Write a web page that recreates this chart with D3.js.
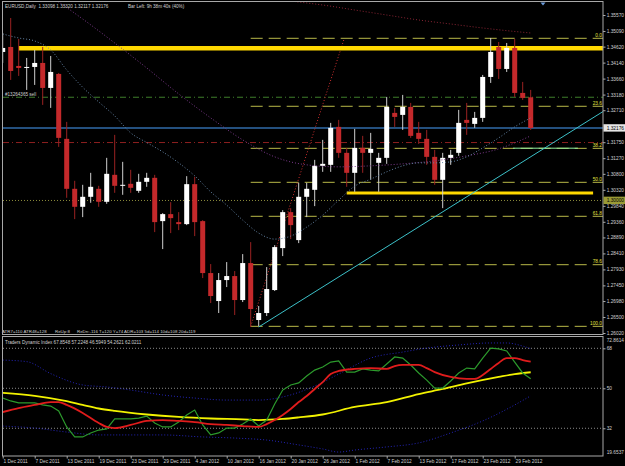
<!DOCTYPE html>
<html><head><meta charset="utf-8">
<script src="https://cdn.jsdelivr.net/npm/d3@7"></script>
<style>
html,body{margin:0;padding:0;background:#000;}
svg{display:block;}
text{font-family:"Liberation Sans",Arial,sans-serif;}
</style></head><body>
<svg id="c" width="625" height="466"></svg>
<script>
// ---------- DATA ----------
const opens  = [1.3446,1.3461,1.3404,1.3398,1.3401,1.3413,1.3338,1.3380,1.3185,1.3035,1.2981,1.3011,1.3035,1.2996,1.3077,1.3044,1.3050,1.3029,1.3056,1.3068,1.2938,1.2959,1.2935,1.2929,1.3049,1.2938,1.2782,1.2698,1.2761,1.2773,1.2701,1.2812,1.2641,1.2662,1.2731,1.2857,1.2965,1.2881,1.3011,1.3032,1.3104,1.3107,1.3221,1.3143,1.3083,1.3158,1.3143,1.3113,1.3128,1.3263,1.3257,1.3281,1.3203,1.3185,1.3131,1.3062,1.3128,1.3143,1.3242,1.3230,1.3248,1.3371,1.3461,1.3395,1.3458,1.3323,1.33098];
const highs  = [1.3503,1.3548,1.3485,1.3428,1.3452,1.3461,1.3434,1.3383,1.3236,1.3059,1.3047,1.3083,1.3044,1.3128,1.3197,1.3116,1.3092,1.3080,1.3083,1.3077,1.2962,1.2995,1.2965,1.3073,1.3071,1.2941,1.2809,1.2782,1.2815,1.2788,1.2839,1.2875,1.2683,1.2800,1.2866,1.2971,1.2977,1.3053,1.3053,1.3122,1.3182,1.3233,1.3242,1.3158,1.3215,1.3194,1.3203,1.3143,1.3311,1.3278,1.3317,1.3293,1.3236,1.3212,1.3152,1.3143,1.3152,1.3272,1.3293,1.3266,1.3377,1.3488,1.3476,1.3473,1.3485,1.3356,1.33320];
const lows   = [1.3413,1.3362,1.3374,1.3332,1.3347,1.3287,1.3278,1.3161,1.3008,1.2944,1.2950,1.2993,1.2981,1.2990,1.3023,1.3017,1.3023,1.3023,1.3041,1.2905,1.2854,1.2902,1.2911,1.2926,1.2893,1.2767,1.2692,1.2662,1.2740,1.2656,1.2695,1.2620,1.2623,1.2653,1.2728,1.2833,1.2884,1.2872,1.2950,1.2983,1.3086,1.3086,1.3128,1.3041,1.3026,1.3083,1.3062,1.3026,1.3110,1.3221,1.3212,1.3188,1.3170,1.3107,1.3047,1.2977,1.3107,1.3134,1.3197,1.3218,1.3236,1.3353,1.3365,1.3386,1.3311,1.3302,1.32117];
const closes = [1.3458,1.3389,1.3398,1.3401,1.3413,1.3338,1.3386,1.3188,1.3035,1.2981,1.3011,1.3041,1.2996,1.3080,1.3044,1.3047,1.3038,1.3056,1.3068,1.2935,1.2959,1.2947,1.2929,1.3049,1.2935,1.2782,1.2713,1.2761,1.2773,1.2701,1.2812,1.2674,1.2662,1.2734,1.2860,1.2965,1.2926,1.3011,1.3035,1.3104,1.3110,1.3218,1.3143,1.3083,1.3158,1.3143,1.3155,1.3128,1.3281,1.3251,1.3281,1.3194,1.3185,1.3131,1.3062,1.3128,1.3137,1.3233,1.3233,1.3248,1.3371,1.3446,1.3395,1.3458,1.3323,1.3308,1.32176];

const dateLabels = ["1 Dec 2011","7 Dec 2011","13 Dec 2011","19 Dec 2011","23 Dec 2011","29 Dec 2011","4 Jan 2012","10 Jan 2012","16 Jan 2012","20 Jan 2012","26 Jan 2012","1 Feb 2012","7 Feb 2012","13 Feb 2012","17 Feb 2012","23 Feb 2012","29 Feb 2012"];
const dateBars = [0,4,8,12,16,20,24,28,32,36,40,44,48,52,56,60,64];

const priceTicks = [1.35570,1.35090,1.34620,1.34140,1.33660,1.33180,1.32710,1.31750,1.31270,1.30800,1.30320,1.29840,1.29360,1.28890,1.28410,1.27930,1.27450,1.26980,1.26500,1.26020];
const tdiLevels = [68, 50, 32];
const tdiMax = 72.8614, tdiMin = 19.6537;

// moving averages on price chart: [bar, price]
const maFast = [[0,1.3500],[2,1.3488],[4,1.3479],[6,1.3452],[8,1.3392],[10,1.3340],[12,1.3296],[14,1.3254],[16,1.3203],[18,1.3174],[20,1.3146],[22,1.3113],[24,1.3074],[26,1.3026],[28,1.2986],[30,1.2941],[32,1.2902],[34,1.2884],[36,1.2893],[38,1.2920],[40,1.2956],[42,1.3001],[44,1.3043],[46,1.3064],[48,1.3086],[50,1.3104],[52,1.3113],[54,1.3113],[56,1.3116],[58,1.3131],[60,1.3158],[62,1.3188],[64,1.3221],[66,1.3248]];
const maMid = [[6,1.3612],[7,1.3596],[10,1.3545],[14,1.3473],[18,1.3398],[22,1.3320],[26,1.3248],[30,1.3182],[34,1.3131],[38,1.3107],[42,1.3101],[46,1.3104],[50,1.3110],[54,1.3119],[58,1.3134],[62,1.3155],[64,1.3173],[66,1.3194]];
const maSlow = [[32,1.3612],[36,1.3599],[40,1.3587],[44,1.3572],[48,1.3557],[52,1.3542],[56,1.3530],[60,1.3518],[63,1.3510],[66,1.3503]];

// Traders Dynamic Index
const tdiGreen = [45.6,44.3,43.4,43.4,43.4,42.5,42.0,39.8,32.6,28.1,28.1,29.9,31.2,31.7,36.2,36.2,36.2,36.6,37.5,34.4,32.6,32.6,34.8,38.0,40.2,33.5,29.0,29.9,32.1,32.1,33.9,36.2,33.0,35.7,42.9,49.2,51.5,52.4,55.5,58.2,59.6,61.8,62.3,57.3,57.3,58.7,58.2,57.8,60.9,64.1,63.6,60.5,56.9,53.7,50.1,50.1,53.3,56.9,59.1,58.7,63.6,68.1,67.7,66.8,61.8,56.9,54.2621];
const tdiRed = [[0,39.3],[2,41.1],[4,42.5],[6,43.8],[7,43.8],[8,42.5],[10,38.9],[12,34.4],[13,32.6],[14,32.1],[16,33.5],[18,35.3],[20,35.7],[22,35.3],[24,34.8],[26,33.9],[28,33.5],[30,33.0],[32,32.6],[33,33.9],[34,35.7],[35,38.0],[36,40.7],[37,43.8],[38,46.5],[39,49.7],[40,52.8],[41,56.4],[42,57.8],[44,58.7],[46,59.1],[48,58.7],[49,60.0],[50,60.5],[52,60.5],[53,59.1],[54,57.3],[56,55.1],[58,54.2],[59,54.2],[60,56.0],[61,58.7],[62,61.4],[63,63.6],[64,63.6],[65,62.7],[66,62.0211]];
const tdiYellow = [[0,47.9],[4,46.6],[8,44.2],[10,42.5],[12,40.9],[14,39.8],[18,38.2],[22,37.1],[26,36.4],[30,36.0],[32,35.7],[35,36.2],[37,36.9],[40,38.2],[44,41.6],[48,43.8],[52,47.4],[55,49.7],[58,52.2],[62,55.1],[64,56.4],[66,57.2248]];
const tdiUpper = [[0,62.7],[3,62.0],[6,56.6],[10,51.5],[13,50.6],[16,49.2],[20,47.0],[24,45.6],[28,44.7],[32,44.7],[35,46.1],[39,51.0],[42,56.4],[46,63.6],[50,66.3],[53,68.1],[57,69.5],[61,70.4],[63,70.4],[65,69.0],[66,67.8548]];
const tdiLower = [[0,33.0],[4,32.1],[8,30.3],[12,29.0],[20,29.0],[25,28.1],[29,27.6],[33,26.7],[37,24.5],[40,22.7],[42,21.3],[44,22.2],[48,23.6],[52,25.4],[56,29.9],[60,35.3],[64,42.5],[66,46.5949]];

// chart objects
const fibLevels = [0, 23.6, 38.2, 50, 61.8, 78.6, 100];
const fibLabels = ["0.0","23.6","38.2","50.0","61.8","78.6","100.0"];
const fibLowBar = 31, fibLow = 1.2622, fibHighBar = 42.7, fibHigh = 1.3487;
const trendPts = [[32,1.2620],[60,1.3041]];
const goldLines = [[2, 80, 1.3457], [43, 73.8, 1.30225]]; // [fromBar, toBar, price]
const greenSeg = [63.8, 71.9, 1.3157];
const orderPrice = 1.3310, stopPrice = 1.3174, bidPrice = 1.32176, roundPrice = 1.30000;

// ---------- SCALES ----------
const W = 625, H = 466;
const X0 = 3, X1 = 603, MT = 2, MB = 334, IT = 337, IB = 456;
const x = d3.scaleLinear().domain([0, 66]).range([2.7, 530.7]);
const y = d3.scaleLinear().domain([1.26020, 1.35570]).range([333, 15]);
const yi = d3.scaleLinear().domain([tdiMin, tdiMax]).range([455.7, 337.5]);
const FG = "#d0d0d0";

const svg = d3.select("#c");
svg.append("rect").attr("width", W).attr("height", H).attr("fill", "#000");
const defs = svg.append("defs");
defs.append("clipPath").attr("id","cm").append("rect").attr("x",X0).attr("y",MT).attr("width",X1-X0).attr("height",MB-MT);
defs.append("clipPath").attr("id","ci").append("rect").attr("x",X0).attr("y",IT).attr("width",X1-X0).attr("height",IB-IT);

const gm = svg.append("g").attr("clip-path","url(#cm)");
const gi = svg.append("g").attr("clip-path","url(#ci)");
const xRight = x.invert(X1);

function hline(g, p, color, width, dash, fromX, toX) {
  g.append("line").attr("x1", fromX ?? X0).attr("x2", toX ?? X1)
    .attr("y1", y(p)).attr("y2", y(p))
    .attr("stroke", color).attr("stroke-width", width)
    .attr("stroke-dasharray", dash || null);
}

// horizontal objects
hline(gm, roundPrice, "#8a8a3a", 1, "1,2");
hline(gm, orderPrice, "#3f7f2a", 1, "6,3,1,3");
hline(gm, stopPrice, "#8e1f1f", 1, "6,3,1,3");
hline(gm, bidPrice, "#24507e", 2);

// fibonacci
fibLevels.forEach((lv, i) => {
  const p = fibHigh - (fibHigh - fibLow) * lv / 100;
  hline(gm, p, "#b8b848", 1, "12,6", x(fibLowBar), X1);
  gm.append("text").attr("x", 602).attr("y", y(p) - 1.3).attr("text-anchor","end")
    .attr("font-size", 4.8).attr("fill", "#e0e040").text(fibLabels[i]);
});
gm.append("line").attr("x1", x(greenSeg[0])).attr("x2", x(greenSeg[1]))
  .attr("y1", y(greenSeg[2])).attr("y2", y(greenSeg[2])).attr("stroke","#90f0a0").attr("stroke-width",1);
gm.append("line").attr("x1", x(fibLowBar)).attr("y1", y(fibLow)).attr("x2", x(fibHighBar)).attr("y2", y(fibHigh))
  .attr("stroke", "#d03030").attr("stroke-width", 1).attr("stroke-dasharray", "1,2");

// gold lines
goldLines.forEach((gl, i) => {
  gm.append("line").attr("x1", x(gl[0])).attr("x2", Math.min(X1, x(gl[1])))
    .attr("y1", y(gl[2])).attr("y2", y(gl[2]))
    .attr("stroke", "#ffd800").attr("stroke-width", i === 0 ? 4.5 : 3);
});

// trend line (ray)
{
  const [a, b] = trendPts;
  const slope = (b[1] - a[1]) / (b[0] - a[0]);
  gm.append("line").attr("x1", x(a[0])).attr("y1", y(a[1]))
    .attr("x2", x(xRight)).attr("y2", y(a[1] + slope * (xRight - a[0])))
    .attr("stroke", "#3cc0c8").attr("stroke-width", 1);
}

// candles
const bars = d3.range(opens.length).map(i => ({i, o: opens[i], h: highs[i], l: lows[i], c: closes[i]}));
const cg = gm.append("g");
cg.selectAll("line.w").data(bars).join("line")
  .attr("x1", d => x(d.i)).attr("x2", d => x(d.i))
  .attr("y1", d => y(d.h)).attr("y2", d => y(d.l))
  .attr("stroke", d => d.c >= d.o ? "#cfcfcf" : "#9a2222").attr("stroke-width", 1);
cg.selectAll("rect.b").data(bars).join("rect")
  .attr("x", d => x(d.i) - 2.5).attr("width", 5)
  .attr("y", d => y(Math.max(d.o, d.c)))
  .attr("height", d => Math.max(1, Math.abs(y(d.o) - y(d.c))))
  .attr("fill", d => d.c >= d.o ? "#ffffff" : "#c4292b");

// moving averages
const maLine = d3.line().x(d => x(d[0])).y(d => y(d[1])).curve(d3.curveMonotoneX);
gm.append("path").attr("d", maLine(maSlow)).attr("fill","none").attr("stroke","#8a2434").attr("stroke-width",1).attr("stroke-dasharray","1,2");
gm.append("path").attr("d", maLine(maMid)).attr("fill","none").attr("stroke","#7c3a8c").attr("stroke-width",1).attr("stroke-dasharray","1,2");
gm.append("path").attr("d", maLine(maFast)).attr("fill","none").attr("stroke","#6686a8").attr("stroke-width",1).attr("stroke-dasharray","1,2");

// chart shift marker
svg.append("path").attr("d", d3.line()([[540.5,2.5],[545.5,2.5],[543,5.5]])).attr("fill","#6a9ad8");

// texts on the main chart
svg.append("text").attr("x",5).attr("y",7.6).attr("font-size",4.6).attr("fill",FG)
  .text("EURUSD,Daily  1.33098 1.33320 1.32117 1.32176").attr("xml:space","preserve");
svg.append("text").attr("x",128).attr("y",7.6).attr("font-size",4.6).attr("fill",FG).text("Bar Left: 9h 38m 40s (40%)");
svg.append("text").attr("x",5).attr("y",96).attr("font-size",4.6).attr("fill",FG).text("#13264365 sell");
svg.append("text").attr("x",2).attr("y",332.6).attr("font-size",4.4).attr("fill",FG).text("ATR7=110 ATR48=128");
svg.append("text").attr("x",55).attr("y",332.6).attr("font-size",4.4).attr("fill",FG).text("ReUp:8");
svg.append("text").attr("x",77).attr("y",332.6).attr("font-size",4.4).attr("fill",FG).text("ReDn:-116 T=120 Y=74 ADR=103 5d=114 10d=108 20d=119");

// ---------- TDI panel ----------
tdiLevels.forEach(lv => {
  gi.append("line").attr("x1",X0).attr("x2",X1).attr("y1",yi(lv)).attr("y2",yi(lv))
    .attr("stroke","#8a8a8a").attr("stroke-width",1).attr("stroke-dasharray","1,2");
});
const tl = d3.line().x(d => x(d[0])).y(d => yi(d[1]));
const tlc = d3.line().x(d => x(d[0])).y(d => yi(d[1])).curve(d3.curveMonotoneX);
gi.append("path").attr("d", tlc(tdiUpper)).attr("fill","none").attr("stroke","#2424b8").attr("stroke-width",1).attr("stroke-dasharray","1,2");
gi.append("path").attr("d", tlc(tdiLower)).attr("fill","none").attr("stroke","#2424b8").attr("stroke-width",1).attr("stroke-dasharray","1,2");
gi.append("path").attr("d", tlc(tdiYellow)).attr("fill","none").attr("stroke","#f2f200").attr("stroke-width",1.8);
gi.append("path").attr("d", tl(tdiGreen.map((v,i)=>[i,v]))).attr("fill","none").attr("stroke","#2c9a2c").attr("stroke-width",1.2);
gi.append("path").attr("d", tlc(tdiRed)).attr("fill","none").attr("stroke","#e01c1c").attr("stroke-width",1.8);
svg.append("text").attr("x",5).attr("y",343.6).attr("font-size",4.6).attr("fill",FG)
  .text("Traders Dynamic Index 67.8548 57.2248 46.5949 54.2621 62.0211");

// ---------- frames ----------
svg.append("rect").attr("x",2.5).attr("y",1.5).attr("width",X1-2.5).attr("height",MB-1.5+0.5)
  .attr("fill","none").attr("stroke","#a8a8a8").attr("stroke-width",1);
svg.append("rect").attr("x",2.5).attr("y",IT-0.5).attr("width",X1-2.5).attr("height",IB-IT+0.5)
  .attr("fill","none").attr("stroke","#a8a8a8").attr("stroke-width",1);

// ---------- axes ----------
function styleAxis(g) {
  g.select(".domain").remove();
  g.selectAll(".tick line").attr("stroke","#a8a8a8");
  g.selectAll(".tick text").attr("fill",FG).attr("font-size",4.8).attr("font-family","Liberation Sans, Arial, sans-serif");
}
const ay = svg.append("g").attr("transform",`translate(${X1},0)`)
  .call(d3.axisRight(y).tickValues(priceTicks).tickSize(2.5).tickPadding(1.2).tickFormat(d3.format(".5f")));
styleAxis(ay);

// highlighted price labels
function priceBox(p, bg, fg) {
  svg.append("rect").attr("x",X1+0.5).attr("y",y(p)-3.8).attr("width",22).attr("height",7.4).attr("fill",bg);
  svg.append("text").attr("x",X1+3.7).attr("y",y(p)+1.7).attr("font-size",4.8).attr("fill",fg).text(d3.format(".5f")(p));
}
priceBox(bidPrice, "#e6e6e6", "#000");
priceBox(roundPrice, "#9a9a36", "#000");

const ai = svg.append("g").attr("transform",`translate(${X1},0)`)
  .call(d3.axisRight(yi).tickValues(tdiLevels).tickSize(2.5).tickPadding(1.2).tickFormat(d3.format("d")));
styleAxis(ai);
svg.append("text").attr("x",X1+3.7).attr("y",342).attr("font-size",4.8).attr("fill",FG).text(d3.format(".4f")(tdiMax));
svg.append("text").attr("x",X1+3.7).attr("y",454).attr("font-size",4.8).attr("fill",FG).text(d3.format(".4f")(tdiMin));

const ax = svg.append("g").attr("transform",`translate(0,${IB})`)
  .call(d3.axisBottom(x).tickValues(dateBars).tickSize(2.5).tickPadding(1.2).tickFormat((d,i) => dateLabels[i]));
styleAxis(ax);
ax.selectAll(".tick text").attr("text-anchor","start").attr("x",0.3);
</script></body></html>
